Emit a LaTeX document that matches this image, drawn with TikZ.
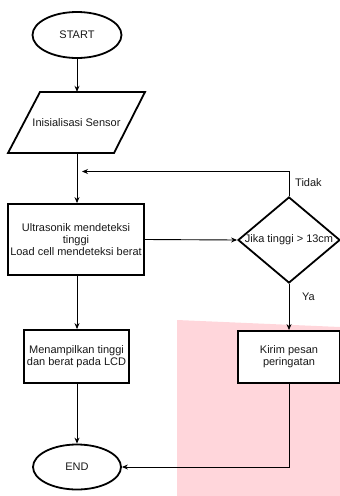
\documentclass[tikz,border=0pt]{standalone}
\usepackage{fontspec}
\setmainfont{Liberation Sans}
\usetikzlibrary{shapes.geometric,arrows.meta}
\definecolor{pinkbg}{RGB}{255,214,219}
\definecolor{txt}{RGB}{25,25,25}
\tikzset{
  every node/.style={font=\fontsize{11}{11.8}\selectfont, text=txt},
  boxline/.style={draw=black, line width=1.8pt},
  termbox/.style={boxline, ellipse, fill=white, inner sep=0pt},
  procbox/.style={boxline, rectangle, fill=white, inner sep=0pt, align=center},
  conn/.style={draw=black, line width=0.9pt, -{Stealth[length=6pt,width=5pt]}},
  lbl/.style={anchor=west, inner sep=0pt}
}
\begin{document}
\begin{tikzpicture}[x=1pt,y=-1pt]
\useasboundingbox (0,0) rectangle (340,496);
% pink background region
\fill[pinkbg] (177,320) -- (340,327) -- (340,496) -- (177,496) -- cycle;

% nodes
\node[termbox, minimum width=89pt, minimum height=46pt] (start) at (77,35) {START};
\node[minimum width=137pt, minimum height=61pt, inner sep=0pt] (init) at (76.5,122.5) {};
\draw[boxline, fill=white, line join=miter] (40,92) -- (145,92) -- (114,153) -- (8,153) -- cycle;
\node at (init) {Inisialisasi Sensor};
\node[procbox, minimum width=136pt, minimum height=71pt] (sense) at (76,239.5)
  {Ultrasonik mendeteksi\\tinggi\\Load cell mendeteksi berat};
\node[boxline, diamond, fill=white, inner sep=0pt, minimum width=102pt, minimum height=86pt] (dec) at (289,240) {};
\node at (dec) {Jika tinggi > 13cm};
\node[procbox, minimum width=105pt, minimum height=53pt] (lcd) at (76.5,356.5)
  {Menampilkan tinggi\\dan berat pada LCD};
\node[procbox, minimum width=102pt, minimum height=52pt] (warn) at (289,357)
  {Kirim pesan\\peringatan};
\node[termbox, minimum width=88pt, minimum height=45pt] (end) at (77,467) {END};

\coordinate (loopin) at (82,171.5);
\coordinate (loopup) at (289,171.5);
\coordinate (endcorner) at (289,467);

% connectors
\draw[conn] (start.south) -- (start.south |- init.north);
\draw[conn] (77,153) -- (sense.north -| 77,0);
\draw[conn] (dec.north) -- (loopup) -- (loopin);
\draw[conn] (sense.east) -- (dec.west);
\draw[conn] (dec.south) -- (warn.north);
\draw[conn] (sense.south -| 77,0) -- (lcd.north -| 77,0);
\draw[conn] (lcd.south -| 77,0) -- (end.north);
\draw[conn] (warn.south) -- (endcorner) -- (end.east);

% labels
\node[lbl] (tidak) at (295,183) {Tidak};
\node[lbl] (ya) at (302,297) {Ya};
\end{tikzpicture}
\end{document}
